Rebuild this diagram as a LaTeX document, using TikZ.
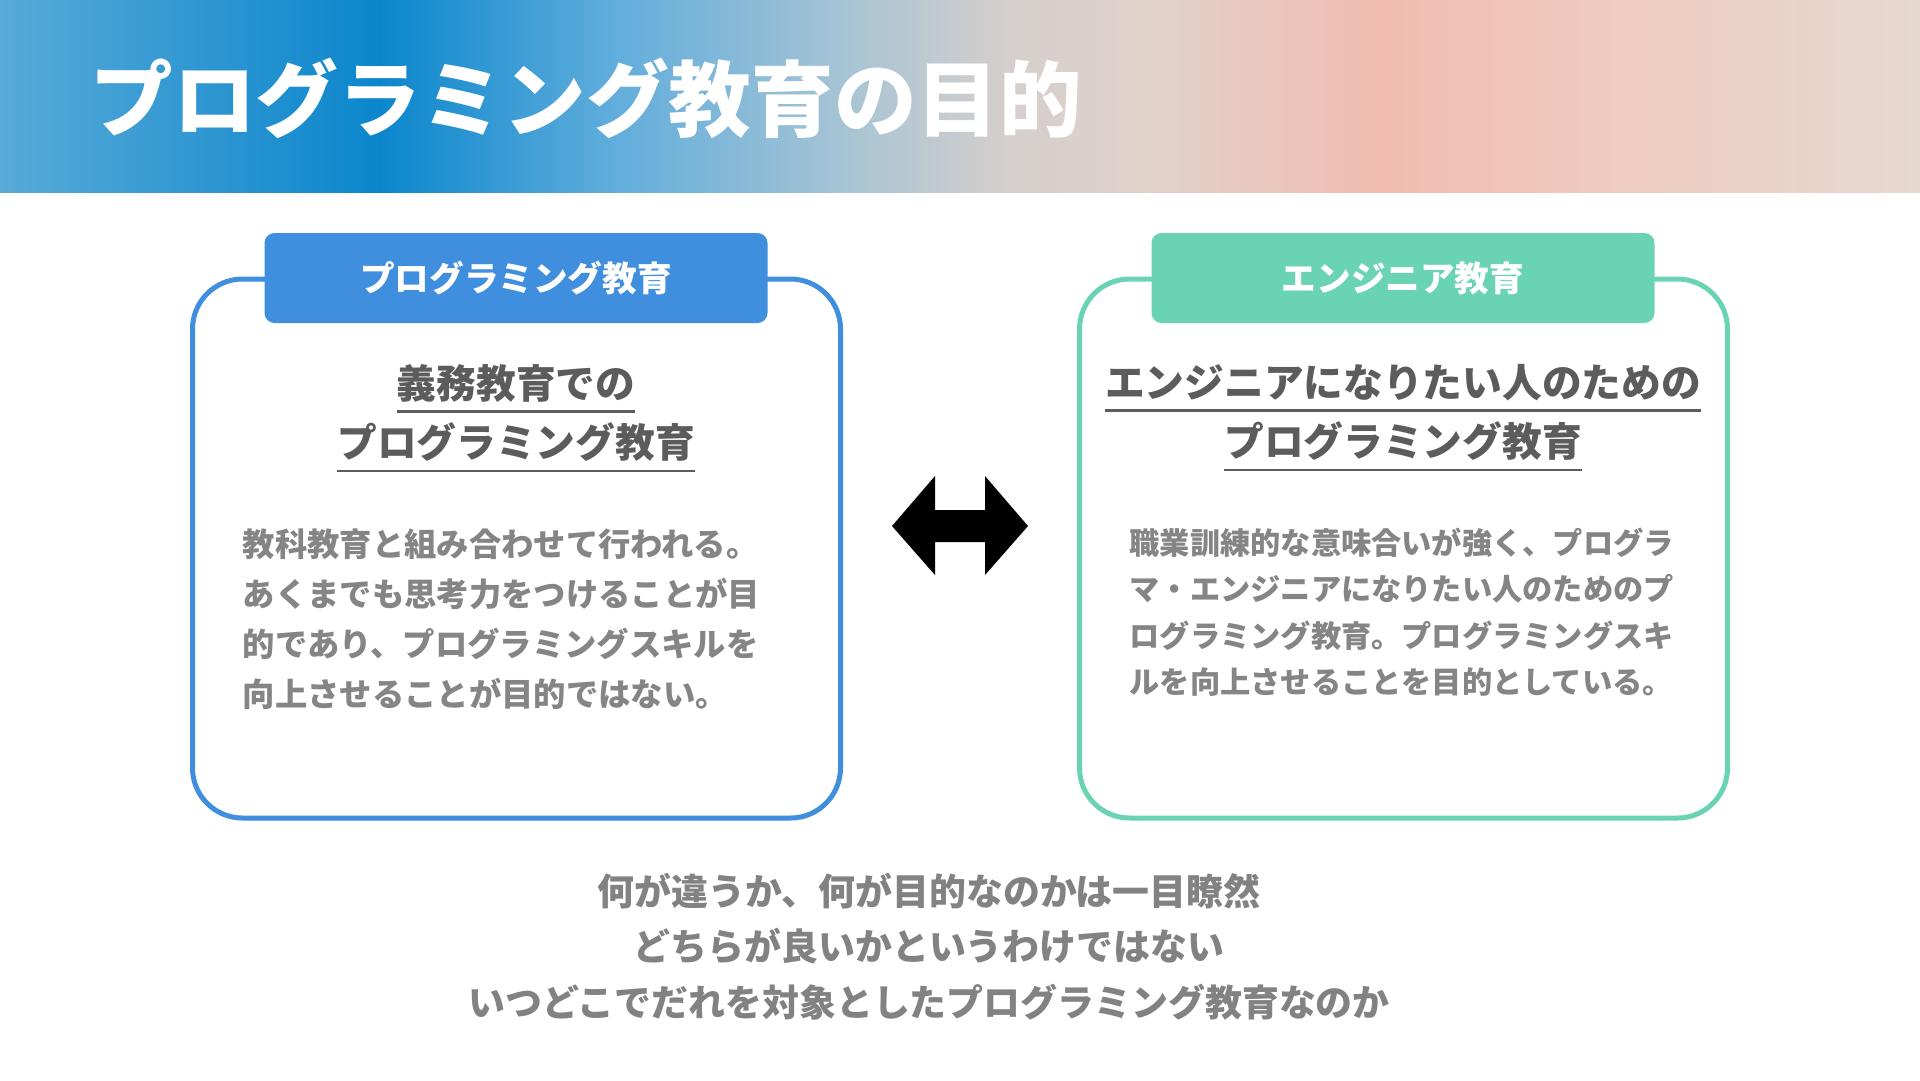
\documentclass[tikz,border=0pt]{standalone}
\usepackage{fontspec}
\setmainfont{Noto Sans CJK JP}
\definecolor{progblue}{HTML}{408FDE}
\definecolor{engteal}{HTML}{69D3B4}
\definecolor{headgray}{HTML}{5C5C5C}
\definecolor{bodygray}{HTML}{858585}
\definecolor{notegray}{HTML}{828282}
\definecolor{hdrA}{HTML}{58AAD8}
\definecolor{hdrB}{HTML}{0B86CC}
\definecolor{hdrC}{HTML}{62AEDC}
\definecolor{hdrD}{HTML}{A8C4D4}
\definecolor{hdrE}{HTML}{D3CECD}
\definecolor{hdrF}{HTML}{E2D2CA}
\definecolor{hdrG}{HTML}{F2BCB0}
\definecolor{hdrI}{HTML}{EFCBBF}
\definecolor{hdrH}{HTML}{E6D8CF}
\pgfdeclarehorizontalshading{hdrband}{100bp}{color(0bp)=(hdrA); color(25bp)=(hdrA);
  color(34.9bp)=(hdrB); color(41.1bp)=(hdrC); color(47.1bp)=(hdrD); color(51bp)=(hdrE);
  color(55bp)=(hdrF); color(61bp)=(hdrG); color(66.7bp)=(hdrI); color(75bp)=(hdrH);
  color(100bp)=(hdrH)}
\newcommand{\headrule}[1]{\vtop{\hbox{#1}\kern2.2pt\hrule height 0.8pt}}
\tikzset{
  framebox/.style={draw=#1, line width=0.5mm, rounded corners=5mm, fill=white,
    minimum width=64.8mm, minimum height=53.9mm},
  tabbox/.style={fill=#1, rounded corners=1mm, minimum width=50.3mm, minimum height=9mm,
    text=white, font=\bfseries\fontsize{9.85}{12}\selectfont},
  heading/.style={text=headgray, align=center, inner sep=0pt, anchor=north,
    font=\bfseries\fontsize{11.3}{16.8}\selectfont},
  bodytext/.style={text=bodygray, align=left, inner sep=0pt, anchor=north west}
}
\begin{document}
\begin{tikzpicture}[x=0.1mm, y=-0.1mm]
  \useasboundingbox (0,0) rectangle (1920,1080);
  \fill[white] (0,0) rectangle (1920,1080);
  \path[shading=hdrband] (0,0) rectangle (1920,192);
  \node[anchor=west, inner sep=0pt, text=white, font=\bfseries\fontsize{23.5}{28}\selectfont]
    (title) at (90,98) {プログラミング教育の目的};

  \node[framebox=progblue] (schoolbox) at (516.5,548.5) {};
  \node[tabbox=progblue] (schooltab) at (516,278) {プログラミング教育};
  \node[heading] (schoolhead) at (516,364) {\headrule{義務教育での}\\\headrule{プログラミング教育}};
  \node[bodytext, font=\bfseries\fontsize{9.2}{14.2}\selectfont] (schoolbody) at (242,528) {%
    教科教育と組み合わせて行われる。\\
    あくまでも思考力をつけることが目\\
    的であり、プログラミングスキルを\\
    向上させることが目的ではない。};

  \node[framebox=engteal] (engbox) at (1403.5,548.5) {};
  \node[tabbox=engteal] (engtab) at (1403,278) {エンジニア教育};
  \node[heading] (enghead) at (1403,364) {\headrule{エンジニアになりたい人のための}\\\headrule{プログラミング教育}};
  \node[bodytext, font=\bfseries\fontsize{8.6}{13.2}\selectfont] (engbody) at (1129,527) {%
    職業訓練的な意味合いが強く、プログラ\\
    マ・エンジニアになりたい人のためのプ\\
    ログラミング教育。プログラミングスキ\\
    ルを向上させることを目的としている。};

  \fill[black] (892,526) -- (935,476) -- (935,510) -- (985,510) -- (985,476) -- (1028,526)
    -- (985,575) -- (985,542) -- (935,542) -- (935,575) -- cycle;

  \node[anchor=north, align=center, inner sep=0pt, text=notegray,
    font=\bfseries\fontsize{10.5}{15.8}\selectfont] (note) at (929,872) {%
    何が違うか、何が目的なのかは一目瞭然\\
    どちらが良いかというわけではない\\
    いつどこでだれを対象としたプログラミング教育なのか};
\end{tikzpicture}
\end{document}
